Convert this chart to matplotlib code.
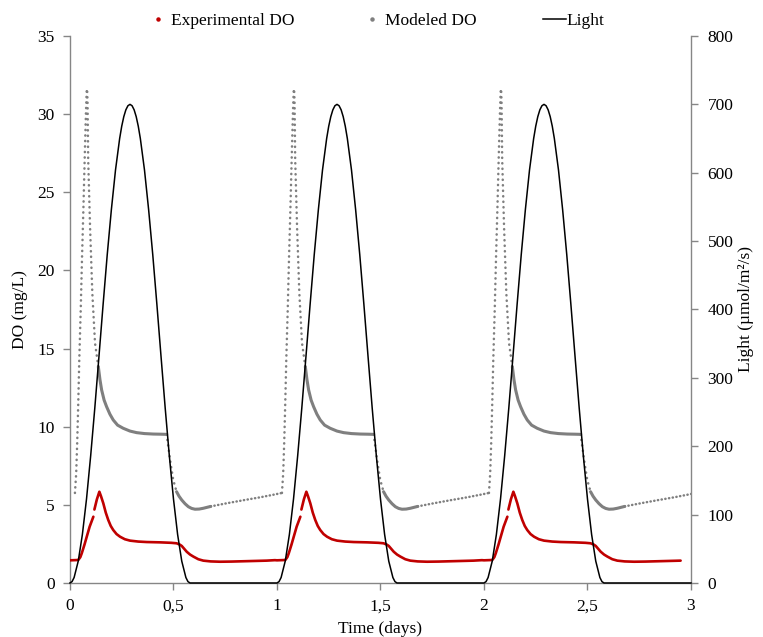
import numpy as np
import matplotlib
matplotlib.use("Agg")
import matplotlib.pyplot as plt
from matplotlib.lines import Line2D

plt.rcParams['font.family'] = ['Liberation Serif', 'DejaVu Serif']
plt.rcParams['font.size'] = 12.5

# ---------------- data ----------------
DAY_OFFSETS = [0.0, 1.0, 2.0]
EXP_END = 2.972

# Experimental DO, one daily cycle (days, mg/L); nan = gap in the record
exp_t = [0.000, 0.020, 0.040, 0.050, 0.057, 0.070, 0.081, 0.095, 0.113, np.nan,
         0.118, 0.130, 0.142, 0.150, 0.161, 0.173, 0.185, 0.197, 0.209, 0.225,
         0.242, 0.265, 0.290, 0.330, 0.371, 0.435, 0.490, 0.515, 0.530, 0.540,
         0.552, 0.564, 0.580, 0.596, 0.620, 0.644, 0.680, 0.725, 0.780, 0.837,
         0.900, 0.950, 0.990]
exp_do = [1.45, 1.46, 1.47, 1.65, 1.90, 2.45, 2.96, 3.60, 4.24, np.nan,
          4.70, 5.35, 5.84, 5.55, 5.10, 4.50, 4.03, 3.65, 3.39, 3.13,
          2.96, 2.80, 2.71, 2.65, 2.62, 2.60, 2.57, 2.54, 2.46, 2.37,
          2.18, 2.00, 1.82, 1.69, 1.52, 1.43, 1.38, 1.36, 1.37, 1.39,
          1.41, 1.43, 1.46]

# Modeled DO, one daily cycle split into its sampled stretches
mod_spike_t = [0.024, 0.030, 0.035, 0.040, 0.045, 0.052, 0.058, 0.065, 0.071, 0.077,
               0.081, 0.083, 0.085, 0.088, 0.097, 0.108, 0.121, 0.137]
mod_spike_do = [5.76, 7.0, 9.0, 11.5, 14.3, 17.5, 20.7, 24.0, 27.1, 30.0,
                31.6, 31.6, 30.7, 27.1, 22.8, 18.55, 15.35, 13.84]

mod_plateau_t = [0.137, 0.145, 0.153, 0.165, 0.177, 0.193, 0.209, 0.230, 0.257,
                 0.290, 0.322, 0.360, 0.402, 0.440, 0.467]
mod_plateau_do = [13.84, 13.0, 12.35, 11.7, 11.28, 10.8, 10.43, 10.1, 9.9,
                  9.72, 9.62, 9.56, 9.53, 9.52, 9.51]

mod_drop_t = [0.467, 0.470, 0.475, 0.486, 0.499, 0.515]
mod_drop_do = [9.51, 9.2, 8.72, 7.66, 6.59, 5.84]

mod_trough_t = [0.515, 0.527, 0.540, 0.556, 0.572, 0.588, 0.604, 0.624, 0.644, 0.680]
mod_trough_do = [5.84, 5.55, 5.31, 5.07, 4.88, 4.77, 4.72, 4.73, 4.78, 4.90]

mod_night_t = [0.680, 0.757, 0.840, 0.918, 0.980, 1.024]
mod_night_do = [4.90, 5.10, 5.30, 5.48, 5.64, 5.76]

# Light, one daily cycle (days, umol/m2/s)
light_t = [0.00, 0.01, 0.02, 0.04, 0.06, 0.08, 0.10, 0.12, 0.14, 0.16, 0.18, 0.20,
           0.22, 0.24, 0.25, 0.26, 0.27, 0.28, 0.29, 0.30, 0.31, 0.32, 0.33, 0.34,
           0.36, 0.38, 0.40, 0.42, 0.44, 0.46, 0.48, 0.50, 0.52, 0.54, 0.56,
           0.57, 0.58, 1.00]
light_v = [0, 2, 8, 32, 71, 123, 186, 256, 331, 407, 480, 546,
           604, 650, 668, 682, 692, 698, 700, 698, 692, 682, 668, 650,
           604, 546, 480, 407, 331, 256, 186, 123, 71, 32, 8,
           2, 0, 0]

x_ticks = [0, 0.5, 1, 1.5, 2, 2.5, 3]
x_tick_labels = ['0', '0,5', '1', '1,5', '2', '2,5', '3']
do_ticks = [0, 5, 10, 15, 20, 25, 30, 35]
light_ticks = [0, 100, 200, 300, 400, 500, 600, 700, 800]

# ---------------- styling ----------------
RED = '#C00000'
GREY = '#7F7F7F'
SPINE = '#868686'

fig = plt.figure(figsize=(7.63, 6.37), dpi=100)
ax = fig.add_axes([0.0917, 0.0848, 0.8139, 0.8587])
ax2 = ax.twinx()

# experimental
et = np.asarray(exp_t)
ed = np.asarray(exp_do)
all_t, all_d = [], []
for off in DAY_OFFSETS:
    tt = et + off
    keep = np.isnan(tt) | (tt <= EXP_END)
    all_t.append(tt[keep])
    all_d.append(ed[keep])
ax.plot(np.concatenate(all_t), np.concatenate(all_d), color=RED, lw=1.9,
        solid_capstyle='round', zorder=3)

# modeled
sparse_dots = dict(color=GREY, lw=1.8, linestyle=(0, (0.1, 2.1)),
                   dash_capstyle='round', zorder=4)
dense_dots = dict(color=GREY, lw=1.8, linestyle=(0, (0.1, 1.4)),
                  dash_capstyle='round', zorder=4)
solid = dict(color=GREY, lw=2.2, solid_capstyle='round', zorder=4)
for off in DAY_OFFSETS:
    ax.plot(np.asarray(mod_spike_t) + off, mod_spike_do, **sparse_dots)
    ax.plot(np.asarray(mod_plateau_t) + off, mod_plateau_do, **solid)
    ax.plot(np.asarray(mod_drop_t) + off, mod_drop_do, **sparse_dots)
    ax.plot(np.asarray(mod_trough_t) + off, mod_trough_do, **solid)
    ax.plot(np.asarray(mod_night_t) + off, mod_night_do, **dense_dots)

# light
lt = np.concatenate([np.asarray(light_t) + off for off in DAY_OFFSETS])
lv = np.concatenate([light_v for _ in DAY_OFFSETS])
ax2.plot(lt, lv, color='black', lw=1.1, clip_on=False, zorder=5)

ax.set_xlim(0, 3)
ax.set_ylim(0, 35)
ax2.set_ylim(0, 800)
ax.set_xticks(x_ticks)
ax.set_xticklabels(x_tick_labels)
ax.set_yticks(do_ticks)
ax2.set_yticks(light_ticks)

for s in ['top', 'right']:
    ax.spines[s].set_visible(False)
for s in ['top', 'left', 'bottom']:
    ax2.spines[s].set_visible(False)
for a, s in [(ax, 'left'), (ax, 'bottom'), (ax2, 'right')]:
    a.spines[s].set_color(SPINE)
    a.spines[s].set_linewidth(1.0)

ax.tick_params(axis='both', direction='out', length=5, width=1, color=SPINE,
               labelsize=12.5, pad=6)
ax2.tick_params(axis='y', direction='out', length=5, width=1, color=SPINE,
                labelsize=12.5, pad=7)

ax.set_xlabel('Time (days)', fontsize=12.5, labelpad=5)
ax.set_ylabel('DO (mg/L)', fontsize=12.5, labelpad=7)
ax2.set_ylabel('Light (µmol/m²/s)', fontsize=12.5, labelpad=3)

handles = [Line2D([], [], color=RED, marker='o', ms=2.2, ls='none'),
           Line2D([], [], color=GREY, marker='o', ms=2.2, ls='none'),
           Line2D([], [], color='black', lw=1.1)]
fig.legend(handles, ['Experimental DO', 'Modeled DO', 'Light'], loc='center',
           bbox_to_anchor=(0.4925, 0.967), bbox_transform=fig.transFigure,
           ncol=3, frameon=False, fontsize=12.5, handlelength=1.32,
           handletextpad=0.05, columnspacing=3.85, borderpad=0)

fig.savefig('out.png', dpi=100)
